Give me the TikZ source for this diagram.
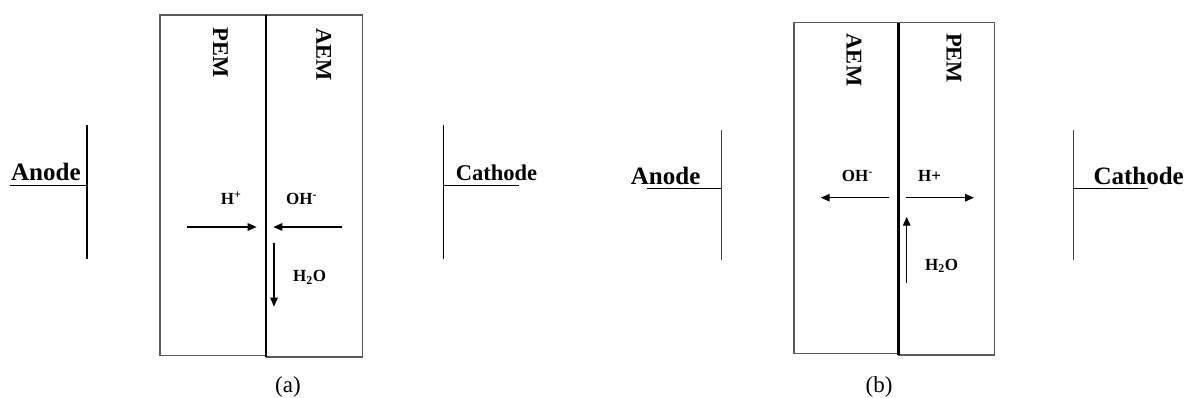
\documentclass[tikz,border=0pt]{standalone}
\usepackage{fontspec}
\setmainfont{Liberation Serif}
\usetikzlibrary{arrows.meta}
\begin{document}
\begin{tikzpicture}[x=1pt,y=-1pt,
  memb/.style={draw=black!65, line width=1.4pt},
  divider/.style={draw=black, line width=2.4pt},
  electrode/.style={draw=black, line width=1.4pt},
  flow/.style={draw=black, line width=1.3pt, -{Triangle[length=9pt,width=7.5pt]}},
  memlabel/.style={font=\bfseries\fontsize{22.5}{24}\selectfont, rotate=-90, inner sep=0},
  ion/.style={font=\bfseries\fontsize{17}{19}\selectfont, inner sep=0, anchor=base west},
  elabel/.style={font=\bfseries\fontsize{25}{27}\selectfont, inner sep=0, anchor=base west},
  caption/.style={font=\fontsize{23}{25}\selectfont, inner sep=0, anchor=base}
]
\useasboundingbox (0,0) rectangle (1186,398);

% ---------------- (a) ----------------
% membranes
\draw[memb] (265.7,15) -- (160,15) -- (160,355.7) -- (265.7,355.7);
\draw[memb] (265.7,15) -- (362.7,15) -- (362.7,357) -- (265.7,357);
\draw[divider] (265.7,15) -- (265.7,357);
\node[memlabel] (aPEM) at (220.5,52.5) {PEM};
\node[memlabel] (aAEM) at (323.7,54.5) {AEM};
% anode
\coordinate (aAt) at (87,125);
\coordinate (aAb) at (87,259);
\coordinate (aAm) at (87,185.3);
\coordinate (aAl) at (10,185.3);
\draw[electrode] (aAt) -- (aAb);
\draw[electrode] (aAl) -- (aAm);
\node[elabel] (aAnode) at (11,181) {Anode};
% cathode
\coordinate (aCt) at (443.3,125);
\coordinate (aCb) at (443.3,259);
\coordinate (aCm) at (443.3,185.7);
\coordinate (aCr) at (519,185.7);
\draw[electrode] (aCt) -- (aCb);
\draw[electrode] (aCm) -- (aCr);
\node[elabel, font=\bfseries\fontsize{22.5}{24}\selectfont] (aCathode) at (455.7,181) {Cathode};
% ions
\node[ion] (aH) at (220.7,205) {H\textsuperscript{+}};
\node[ion] (aOH) at (286,205) {OH\textsuperscript{-}};
\node[ion] (aW) at (293,281.7) {H\textsubscript{2}O};
\coordinate (aHs) at (186.7,227);
\coordinate (aHe) at (256.7,227);
\coordinate (aOs) at (342.3,227);
\coordinate (aOe) at (273.3,227);
\coordinate (aWs) at (274,242.7);
\coordinate (aWe) at (274,306.7);
\draw[flow] (aHs) -- (aHe);
\draw[flow] (aOs) -- (aOe);
\draw[flow] (aWs) -- (aWe);
\node[caption] (capa) at (288,392) {(a)};

% ---------------- (b) ----------------
\draw[memb] (898.3,22.7) -- (794,22.7) -- (794,353.3) -- (898.3,353.3);
\draw[memb] (898.3,22.7) -- (994.3,22.7) -- (994.3,355) -- (898.3,355);
\draw[divider] (898.3,22.7) -- (898.3,355);
\node[memlabel] (bAEM) at (854,60) {AEM};
\node[memlabel] (bPEM) at (954,58) {PEM};
% anode
\coordinate (bAt) at (721.7,130);
\coordinate (bAb) at (721.7,260);
\coordinate (bAm) at (721.7,188.3);
\coordinate (bAl) at (646.7,188.3);
\draw[electrode, draw=black!75] (bAt) -- (bAb);
\draw[electrode] (bAl) -- (bAm);
\node[elabel] (bAnode) at (630.7,185) {Anode};
% cathode
\coordinate (bCt) at (1073.3,130);
\coordinate (bCb) at (1073.3,260);
\coordinate (bCm) at (1073.3,188.3);
\coordinate (bCr) at (1148,188.3);
\draw[electrode, draw=black!75] (bCt) -- (bCb);
\draw[electrode] (bCm) -- (bCr);
\node[elabel] (bCathode) at (1093.3,185) {Cathode};
% ions
\node[ion] (bOH) at (841.7,181.7) {OH\textsuperscript{-}};
\node[ion] (bH) at (918,181.7) {H+};
\node[ion] (bW) at (925,270) {H\textsubscript{2}O};
\coordinate (bOs) at (889.3,197.7);
\coordinate (bOe) at (820.7,197.7);
\coordinate (bHs) at (906,197.7);
\coordinate (bHe) at (974,197.7);
\coordinate (bWs) at (906.7,283.3);
\coordinate (bWe) at (906.7,216.7);
\draw[flow] (bOs) -- (bOe);
\draw[flow] (bHs) -- (bHe);
\draw[flow] (bWs) -- (bWe);
\node[caption] (capb) at (879,392) {(b)};
\end{tikzpicture}
\end{document}
